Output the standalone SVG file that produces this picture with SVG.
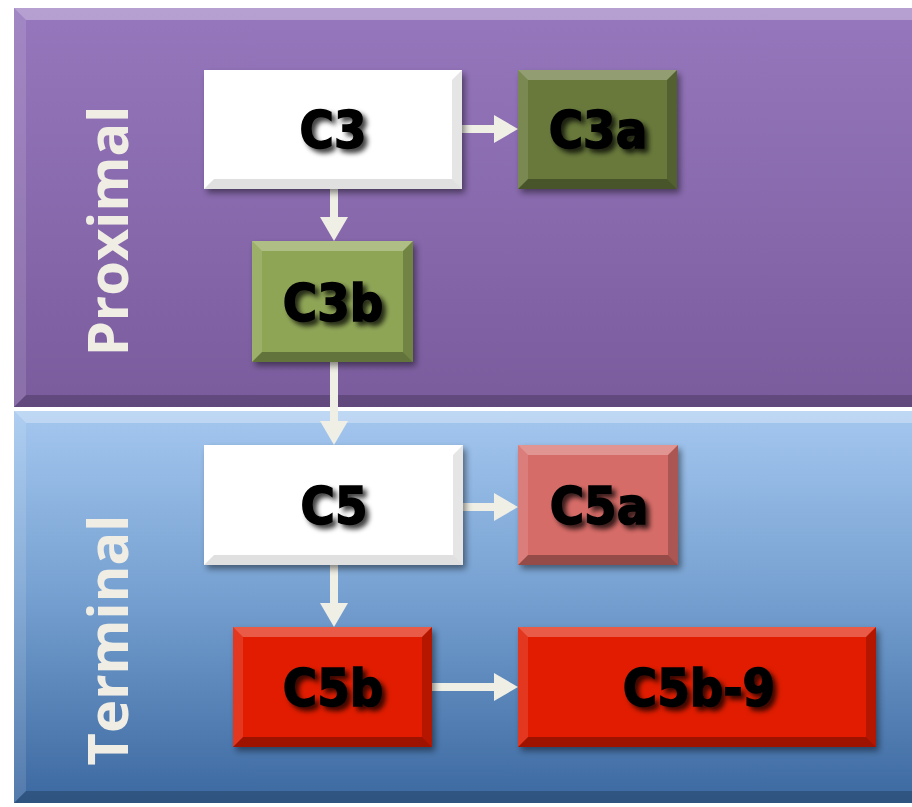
<svg xmlns="http://www.w3.org/2000/svg" width="912" height="807" viewBox="0 0 912 807">
<defs>
<linearGradient id="gPurple" x1="0" y1="0" x2="0" y2="1">
<stop offset="0" stop-color="#9677bd"/>
<stop offset="1" stop-color="#7a5c9d"/>
</linearGradient>
<linearGradient id="gBlue" x1="0" y1="0" x2="0" y2="1">
<stop offset="0" stop-color="#a4c7ef"/>
<stop offset="0.45" stop-color="#78a2d2"/>
<stop offset="1" stop-color="#3b68a0"/>
</linearGradient>
<filter id="boxShadow" x="-10%" y="-10%" width="130%" height="140%">
<feDropShadow dx="3" dy="4" stdDeviation="3" flood-color="#000" flood-opacity="0.45"/>
</filter>
<filter id="txtShadow" x="-10%" y="-20%" width="130%" height="150%">
<feDropShadow dx="4" dy="4" stdDeviation="2.5" flood-color="#000" flood-opacity="0.75"/>
</filter>
<marker id="ah" markerUnits="userSpaceOnUse" markerWidth="24" markerHeight="28" refX="10" refY="14" orient="auto">
<path d="M0,0 L24,14 L0,28 Z" fill="#f0efe6"/>
</marker>
<style>
.bvT{fill:#fff;fill-opacity:0.28}
.bvL{fill:#fff;fill-opacity:0.12}
.bvB{fill:#000;fill-opacity:0.3}
.bvR{fill:#000;fill-opacity:0.2}
.pT{fill:#fff;fill-opacity:0.3}
.pL{fill:#fff;fill-opacity:0.12}
.pB{fill:#000;fill-opacity:0.2}
.lbl{font-family:"DejaVu Sans Condensed","DejaVu Sans",sans-serif;font-stretch:condensed;font-weight:bold;font-size:52px;fill:#000;stroke:#000;stroke-width:1.5;text-anchor:middle;filter:url(#txtShadow)}
.side{font-family:"Open Sans","Noto Sans",sans-serif;font-weight:700;font-size:56px;fill:#f0eee4;text-anchor:middle}
.conn line{stroke:#f0efe6;stroke-width:8;marker-end:url(#ah)}
</style>
</defs>

<g id="panel-proximal">
<rect x="14" y="8" width="906" height="399" fill="url(#gPurple)"/>
<polygon class="pT" points="14,8 920,8 920,20 26,20"/>
<polygon class="pL" points="14,8 26,20 26,395 14,407"/>
<polygon class="pB" points="14,407 920,407 920,395 26,395"/>
<text class="side" transform="translate(128,231) rotate(-90)">Proximal</text>
</g>

<g id="panel-terminal">
<rect x="14" y="411" width="906" height="392" fill="url(#gBlue)"/>
<polygon class="pT" points="14,411 920,411 920,423 26,423"/>
<polygon class="pL" points="14,411 26,423 26,791 14,803"/>
<polygon class="pB" points="14,803 920,803 920,791 26,791"/>
<text class="side" transform="translate(128,640) rotate(-90)">Terminal</text>
</g>

<g id="connectors" class="conn">
<line x1="462" y1="129" x2="504" y2="129"/>
<line x1="334" y1="189" x2="334" y2="227"/>
<line x1="334" y1="362" x2="334" y2="431"/>
<line x1="463" y1="507" x2="504" y2="507"/>
<line x1="334" y1="565" x2="334" y2="613"/>
<line x1="432" y1="687" x2="504" y2="687"/>
</g>

<g id="node-C3">
<g filter="url(#boxShadow)"><rect x="204" y="70" width="258" height="119" fill="#ffffff"/></g>
<polygon class="bvB" style="fill-opacity:0.12" points="204,189 462,189 452,179 214,179"/>
<polygon class="bvR" style="fill-opacity:0.1" points="462,70 452,80 452,179 462,189"/>
<text class="lbl" x="333" y="148">C3</text>
</g>

<g id="node-C3a">
<g filter="url(#boxShadow)"><rect x="518" y="70" width="159" height="119" fill="#67793b"/></g>
<polygon class="bvT" points="518,70 677,70 667,80 528,80"/>
<polygon class="bvB" points="518,189 677,189 667,179 528,179"/>
<polygon class="bvL" points="518,70 528,80 528,179 518,189"/>
<polygon class="bvR" points="677,70 667,80 667,179 677,189"/>
<text class="lbl" x="598" y="148">C3a</text>
</g>

<g id="node-C3b">
<g filter="url(#boxShadow)"><rect x="252" y="241" width="161" height="121" fill="#8fa557"/></g>
<polygon class="bvT" points="252,241 413,241 403,251 262,251"/>
<polygon class="bvB" points="252,362 413,362 403,352 262,352"/>
<polygon class="bvL" points="252,241 262,251 262,352 252,362"/>
<polygon class="bvR" points="413,241 403,251 403,352 413,362"/>
<text class="lbl" x="333" y="321">C3b</text>
</g>

<g id="node-C5">
<g filter="url(#boxShadow)"><rect x="204" y="445" width="259" height="120" fill="#ffffff"/></g>
<polygon class="bvB" style="fill-opacity:0.12" points="204,565 463,565 453,555 214,555"/>
<polygon class="bvR" style="fill-opacity:0.1" points="463,445 453,455 453,555 463,565"/>
<text class="lbl" x="334" y="524">C5</text>
</g>

<g id="node-C5a">
<g filter="url(#boxShadow)"><rect x="518" y="445" width="160" height="120" fill="#d66c67"/></g>
<polygon class="bvT" points="518,445 678,445 668,455 528,455"/>
<polygon class="bvB" points="518,565 678,565 668,555 528,555"/>
<polygon class="bvL" points="518,445 528,455 528,555 518,565"/>
<polygon class="bvR" points="678,445 668,455 668,555 678,565"/>
<text class="lbl" x="599" y="524">C5a</text>
</g>

<g id="node-C5b">
<g filter="url(#boxShadow)"><rect x="233" y="627" width="199" height="120" fill="#e11f00"/></g>
<polygon class="bvT" points="233,627 432,627 422,637 243,637"/>
<polygon class="bvB" points="233,747 432,747 422,737 243,737"/>
<polygon class="bvL" points="233,627 243,637 243,737 233,747"/>
<polygon class="bvR" points="432,627 422,637 422,737 432,747"/>
<text class="lbl" x="333" y="706">C5b</text>
</g>

<g id="node-C5b-9">
<g filter="url(#boxShadow)"><rect x="518" y="627" width="358" height="120" fill="#e11f00"/></g>
<polygon class="bvT" points="518,627 876,627 866,637 528,637"/>
<polygon class="bvB" points="518,747 876,747 866,737 528,737"/>
<polygon class="bvL" points="518,627 528,637 528,737 518,747"/>
<polygon class="bvR" points="876,627 866,637 866,737 876,747"/>
<text class="lbl" x="699" y="706">C5b-9</text>
</g>
</svg>
